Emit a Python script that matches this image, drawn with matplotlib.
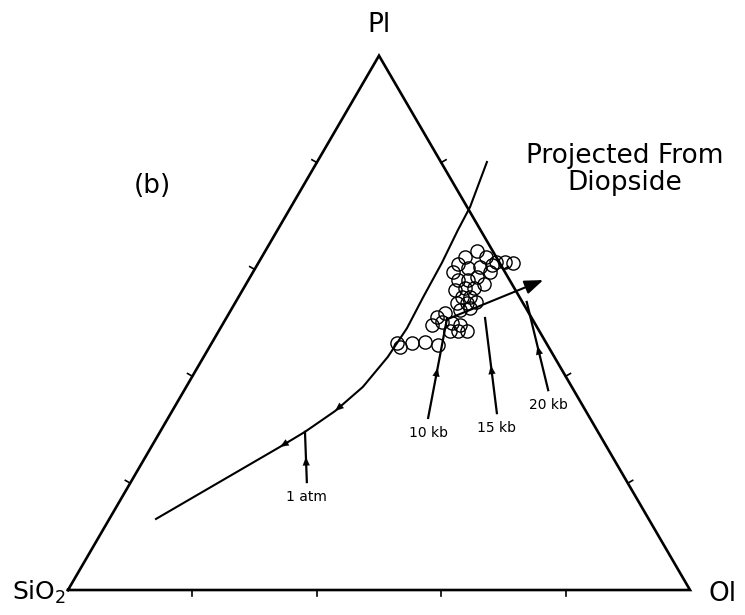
import numpy as np
import matplotlib.pyplot as plt

# compositions in percent, projected from diopside: Pl and Ol, SiO2 is the rest
cotectic_pl = [13.3, 26.8, 29.6, 33.5, 38.0, 43.6, 49.0, 54.8, 61.2, 67.4, 71.7, 80.1]
cotectic_ol = [7.5, 20.7, 23.3, 26.2, 28.4, 29.6, 30.0, 29.7, 29.5, 29.0, 28.8, 27.3]
cotectic_arrow_idx = [1, 3]

pressure_labels = ['1 atm', '10 kb', '15 kb', '20 kb']
pressure_top_pl = [29.6, 50.9, 50.9, 53.9]
pressure_top_ol = [23.3, 35.5, 41.6, 46.8]
pressure_bot_pl = [20.2, 32.2, 33.1, 37.4]
pressure_bot_ol = [28.3, 41.8, 52.4, 58.5]

shift_pl = [50.9, 58.0]
shift_ol = [36.0, 47.4]

sample_pl = [63.4, 62.3, 62.3, 61.0, 61.4, 61.4, 61.2, 60.8, 59.5, 60.3,
             60.5, 59.5, 58.0, 58.0, 58.6, 57.3, 56.1, 56.5, 56.5, 54.8,
             54.8, 53.7, 53.7, 53.9, 52.4, 52.8, 51.8, 51.1, 49.6, 50.2,
             50.0, 49.6, 48.5, 48.5, 48.5, 45.9, 46.4, 46.2, 45.5, 46.2]
sample_ol = [34.1, 32.7, 36.0, 32.2, 38.1, 39.6, 40.9, 37.8, 32.2, 34.2,
             36.0, 38.1, 33.7, 35.3, 36.5, 38.3, 34.2, 35.6, 37.1, 35.9,
             37.2, 35.7, 37.3, 38.7, 36.8, 38.2, 34.7, 33.8, 33.7, 35.0,
             36.7, 38.2, 37.2, 38.5, 39.9, 36.6, 34.2, 32.2, 30.7, 29.8]

tick_fracs = [0.2, 0.4, 0.6, 0.8]


def tern(pl, ol):
    pl = np.asarray(pl, dtype=float) / 100.
    ol = np.asarray(ol, dtype=float) / 100.
    return ol + pl / 2., pl * np.sqrt(3) / 2.


def head(ax, pl0, ol0, pl1, ol1):
    # small filled arrowhead pointing from point 0 towards point 1
    x0, y0 = tern(pl0, ol0)
    x1, y1 = tern(pl1, ol1)
    ax.annotate('', xy=(x1, y1), xytext=(x0, y0),
                arrowprops=dict(arrowstyle='-|>,head_length=0.6,head_width=0.25',
                                color='black', lw=0.1, shrinkA=0, shrinkB=0,
                                mutation_scale=10))


fig = plt.figure(figsize=(7.45, 6.15), dpi=100)
ax = fig.add_axes([0, 0, 1, 1])
ax.set_xlim(-0.1093, 1.0884)
ax.set_ylim(-0.0405, 0.9562)
ax.axis('off')

# triangle
corners_x, corners_y = tern([0, 0, 100, 0], [0, 100, 0, 0])
ax.plot(corners_x, corners_y, color='black', lw=1.9, solid_joinstyle='miter')

# edge ticks
tl = 0.009
h = np.sqrt(3) / 2.
for f in tick_fracs:
    ax.plot([f, f], [0, -tl], color='black', lw=1.2)
    lx, ly = 0.5 * f, h * f
    ax.plot([lx, lx - tl * h], [ly, ly + tl * 0.5], color='black', lw=1.2)
    rx, ry = 1 - 0.5 * f, h * f
    ax.plot([rx, rx + tl * h], [ry, ry + tl * 0.5], color='black', lw=1.2)

# cotectic
cx, cy = tern(cotectic_pl, cotectic_ol)
ax.plot(cx, cy, color='black', lw=1.5)
for i in cotectic_arrow_idx:
    head(ax, cotectic_pl[i + 1], cotectic_ol[i + 1], cotectic_pl[i], cotectic_ol[i])

# pressure markers
for lab, tp, to, bp, bo in zip(pressure_labels, pressure_top_pl, pressure_top_ol,
                               pressure_bot_pl, pressure_bot_ol):
    px, py = tern([bp, tp], [bo, to])
    ax.plot(px, py, color='black', lw=1.6)
    mp, mo = 0.5 * (tp + bp), 0.5 * (to + bo)
    head(ax, mp - 0.12 * (tp - bp), mo - 0.12 * (to - bo), mp, mo)
    ax.annotate(lab, xy=(px[0], py[0]), xytext=(0, -6), textcoords='offset points',
                ha='center', va='top', fontsize=10)

# samples
sx, sy = tern(sample_pl, sample_ol)
ax.plot(sx, sy, 'o', ms=9.5, mfc='none', mec='black', mew=1.0)

# high-pressure shift
ax_, ay_ = tern(shift_pl, shift_ol)
ax.annotate('', xy=(ax_[1], ay_[1]), xytext=(ax_[0], ay_[0]),
            arrowprops=dict(arrowstyle='-|>,head_length=0.8,head_width=0.3',
                            color='black', lw=1.5, shrinkA=0, shrinkB=0,
                            mutation_scale=14))

# labels
ax.annotate('SiO$_2$', xy=(0, 0), xytext=(-1.5, -7), textcoords='offset points',
            ha='right', va='baseline', fontsize=18)
ax.annotate('Ol', xy=(1, 0), xytext=(13, -8), textcoords='offset points',
            ha='left', va='baseline', fontsize=19)
ax.annotate('Pl', xy=(0.5, h), xytext=(0, 17), textcoords='offset points',
            ha='center', va='baseline', fontsize=19)
ax.text(0.8955, 0.725, 'Projected From\nDiopside', ha='center', va='top',
        fontsize=19, linespacing=1.05)
ax.text(0.135, 0.655, '(b)', ha='center', va='center', fontsize=19)

fig.savefig('out.png', dpi=100)
